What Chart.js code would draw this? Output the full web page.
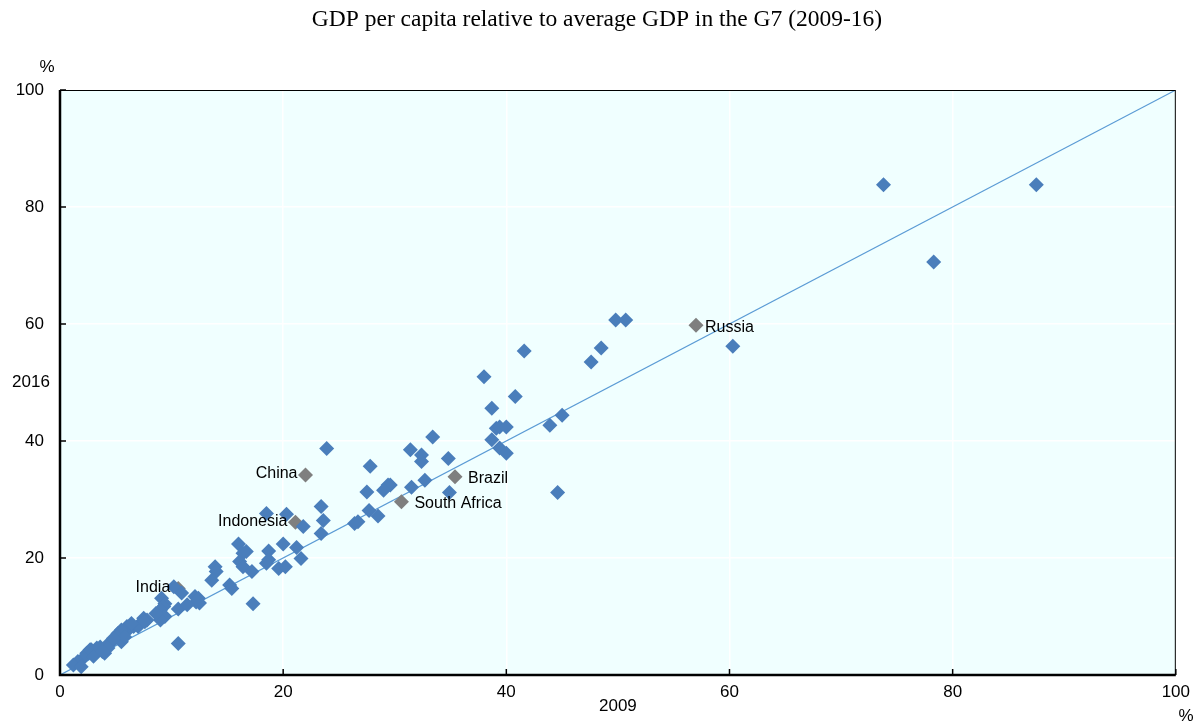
<!DOCTYPE html>
<html>
<head>
<meta charset="utf-8">
<script src="https://cdn.jsdelivr.net/npm/chart.js@4"></script>
<style>
  html, body { margin: 0; padding: 0; background: #fff; }
  #wrap { width: 1197px; height: 723px; }
</style>
</head>
<body>
<div id="wrap"><canvas id="gdpChart" width="1197" height="723"></canvas></div>
<script>
// values, % of average G7 GDP per capita
const otherX = [87.5, 73.8, 78.3, 60.3, 49.8, 50.7, 48.5, 47.6, 41.6, 38.0, 40.8, 38.7, 45.0, 43.9, 33.4,
  39.1, 39.4, 40.0, 38.7, 39.4, 40.0, 31.4, 34.8, 32.4, 32.4, 27.8, 23.9, 44.6, 34.9, 32.7, 31.5, 29.6,
  29.4, 29.0, 27.5, 23.4, 23.6, 27.7, 28.5, 26.4, 26.7, 20.3, 18.5, 21.8, 23.4,
  16.0, 16.4, 16.7, 18.7, 18.7, 20.0, 21.2, 21.6, 18.5, 19.6, 20.2, 16.1, 16.4, 17.2, 13.9, 14.0, 13.6,
  15.2, 15.4, 12.1, 12.2, 17.3, 12.4, 12.5,
  10.2, 10.9, 9.1, 9.4, 9.3, 9.0, 10.6, 11.4, 9.4, 9.0, 7.8, 7.5, 7.2, 6.6, 6.1, 6.0, 5.5, 5.2, 5.1,
  4.5, 4.2, 3.6, 3.3, 2.7, 2.4, 2.1, 1.6, 1.2, 1.9, 10.6, 4.0, 4.3, 5.5, 5.8, 7.0, 7.6, 6.4, 4.8, 2.8,
  3.0, 3.8, 8.6];
const otherY = [83.8, 83.8, 70.6, 56.2, 60.7, 60.7, 55.9, 53.5, 55.4, 51.0, 47.6, 45.6, 44.4, 42.7, 40.7,
  42.2, 42.4, 42.4, 40.2, 38.8, 37.9, 38.5, 37.0, 37.6, 36.5, 35.7, 38.7, 31.2, 31.2, 33.3, 32.1, 32.5,
  32.5, 31.6, 31.3, 28.8, 26.4, 28.1, 27.2, 25.9, 26.2, 27.5, 27.6, 25.4, 24.2,
  22.4, 20.8, 21.1, 21.2, 19.7, 22.4, 21.8, 19.9, 19.1, 18.2, 18.5, 19.4, 18.5, 17.7, 18.5, 17.7, 16.2,
  15.4, 14.8, 13.4, 12.5, 12.2, 13.1, 12.3,
  15.1, 14.0, 13.1, 12.2, 11.7, 11.1, 11.3, 12.0, 10.0, 9.4, 9.4, 9.7, 8.8, 8.3, 7.7, 8.3, 7.7, 7.1, 6.5,
  5.4, 5.1, 4.8, 4.6, 4.3, 3.7, 2.9, 2.3, 1.7, 1.4, 5.4, 3.7, 4.6, 5.7, 6.5, 8.3, 9.1, 8.8, 6.3, 4.3,
  3.2, 4.0, 10.5];

const namedCountries = ['India', 'Indonesia', 'China', 'South Africa', 'Brazil', 'Russia'];
const namedX = [10.6, 21.1, 22.0, 30.6, 35.4, 57.0];
const namedY = [14.8, 26.1, 34.2, 29.6, 33.9, 59.8];

const axisTicks = [0, 20, 40, 60, 80, 100];

// label placement: text to the left or right of the marker
const labelSide = { 'India': 'left', 'Indonesia': 'left', 'China': 'left',
  'South Africa': 'right', 'Brazil': 'right', 'Russia': 'right' };

const tickFont = "'Liberation Sans Narrow', 'Arial Narrow', 'Liberation Sans', Arial, sans-serif";

// plot background, frame, inner tick marks, titles and country labels
const decorations = {
    id: 'decorations',
    beforeDraw(chart) {
        const { ctx, chartArea: a } = chart;
        ctx.save();
        ctx.fillStyle = '#f0ffff';
        ctx.fillRect(a.left, a.top, a.right - a.left, a.bottom - a.top);
        ctx.restore();
    },
    afterDatasetsDraw(chart) {
        const { ctx, chartArea: a, scales } = chart;
        ctx.save();
        // frame
        ctx.strokeStyle = '#000';
        ctx.lineWidth = 1;
        ctx.strokeRect(a.left + 0.5, a.top + 0.5, a.right - a.left - 1, a.bottom - a.top - 1);
        ctx.lineWidth = 2.5;
        ctx.beginPath();
        ctx.moveTo(a.left, a.top);
        ctx.lineTo(a.left, a.bottom);
        ctx.lineTo(a.right, a.bottom);
        ctx.stroke();
        // inner ticks
        ctx.lineWidth = 1.5;
        axisTicks.forEach(v => {
            const px = scales.x.getPixelForValue(v);
            const py = scales.y.getPixelForValue(v);
            ctx.beginPath();
            ctx.moveTo(px, a.bottom);
            ctx.lineTo(px, a.bottom - 6);
            ctx.moveTo(a.left, py);
            ctx.lineTo(a.left + 6, py);
            ctx.stroke();
        });

        // country labels
        ctx.fillStyle = '#000';
        ctx.font = "16px 'Liberation Sans', Arial, sans-serif";
        ctx.textBaseline = 'middle';
        const meta = chart.getDatasetMeta(1);
        meta.data.forEach((pt, i) => {
            const name = namedCountries[i];
            if (labelSide[name] === 'left') {
                ctx.textAlign = 'right';
                ctx.fillText(name, pt.x - 8, pt.y - 1);
            } else {
                ctx.textAlign = 'left';
                ctx.fillText(name, pt.x + (name === 'Russia' ? 9 : 13), pt.y + 2);
            }
        });

        // title and axis names
        ctx.font = "23.5px 'Liberation Serif', 'Times New Roman', serif";
        ctx.textAlign = 'center';
        ctx.fillText('GDP per capita relative to average GDP in the G7 (2009-16)', 597, 20);
        ctx.font = '17px ' + tickFont;
        ctx.textAlign = 'center';
        ctx.fillText('%', 47, 67);
        ctx.fillText('2016', 31, (a.top + a.bottom) / 2);
        ctx.fillText('2009', (a.left + a.right) / 2, 706);
        ctx.fillText('%', 1186, 716);
        ctx.restore();
    }
};

new Chart(document.getElementById('gdpChart'), {
    type: 'scatter',
    data: {
        datasets: [
            {
                label: 'Countries',
                data: otherX.map((x, i) => ({ x: x, y: otherY[i] })),
                backgroundColor: '#4a7ebb',
                borderColor: '#4a7ebb',
                pointStyle: 'rectRot',
                pointRadius: 7.5,
                pointBorderWidth: 0
            },
            {
                label: 'Named',
                data: namedX.map((x, i) => ({ x: x, y: namedY[i] })),
                backgroundColor: '#7f7f7f',
                borderColor: '#7f7f7f',
                pointStyle: 'rectRot',
                pointRadius: 7.5,
                pointBorderWidth: 0
            },
            {
                type: 'line',
                label: '45 degree',
                data: [{ x: 0, y: 0 }, { x: 100, y: 100 }],
                borderColor: '#5b9bd5',
                borderWidth: 1.2,
                pointRadius: 0,
                order: 5
            }
        ]
    },
    plugins: [decorations],
    options: {
        responsive: false,
        animation: false,
        layout: { padding: { left: 0, top: 90, right: 21, bottom: 0 } },
        plugins: {
            legend: { display: false },
            tooltip: { enabled: false }
        },
        scales: {
            x: {
                type: 'linear',
                min: 0,
                max: 100,
                afterFit: s => { s.height = 48; },
                afterBuildTicks: s => { s.ticks = axisTicks.map(v => ({ value: v })); },
                grid: { color: '#ffffff', lineWidth: 1.5, drawTicks: false },
                border: { display: false },
                ticks: { color: '#000', padding: 7, font: { size: 17, family: tickFont } }
            },
            y: {
                type: 'linear',
                min: 0,
                max: 100,
                afterFit: s => { s.width = 60; },
                afterBuildTicks: s => { s.ticks = axisTicks.map(v => ({ value: v })); },
                grid: { color: '#ffffff', lineWidth: 1.5, drawTicks: false },
                border: { display: false },
                ticks: { color: '#000', padding: 16, font: { size: 17, family: tickFont } }
            }
        }
    }
});
</script>
</body>
</html>
